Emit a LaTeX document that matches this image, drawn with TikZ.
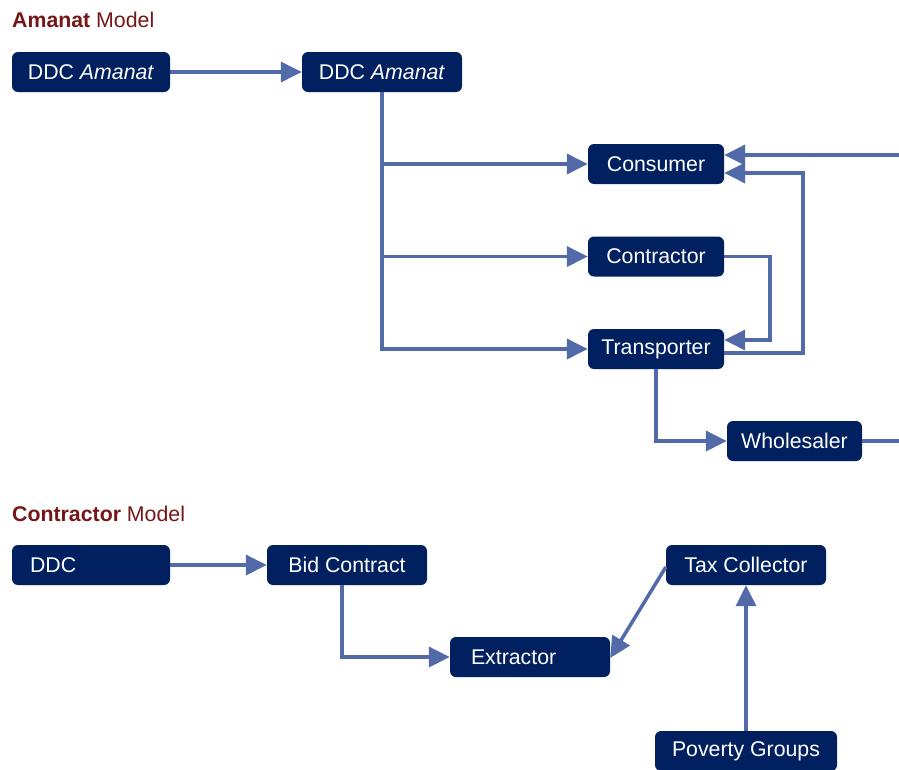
\documentclass[tikz,border=0pt]{standalone}
\usepackage{fontspec}
\setmainfont{Liberation Sans}
\usetikzlibrary{arrows.meta, positioning}
\definecolor{boxblue}{RGB}{0,32,96}
\definecolor{linkblue}{RGB}{82,106,168}
\definecolor{titlered}{RGB}{118,22,22}

\begin{document}
\begin{tikzpicture}[x=1pt, y=1pt, >={Triangle[length=21pt,width=20pt]}, node distance=92.5pt,
    font=\fontsize{21.3}{25}\selectfont,
    box/.style={rectangle, rounded corners=6pt, fill=boxblue, text=white, inner sep=0pt, minimum height=40pt},
    title/.style={anchor=west, inner sep=0pt, text=titlered},
    link/.style={->, draw=linkblue, line width=3.5pt},
    line/.style={draw=linkblue, line width=3.5pt}]
        \useasboundingbox (0,0) rectangle (899,-769);

        % Amanat model
        \node[title] (t1) at (12,-20) {\textbf{Amanat} Model};
        \node[box, minimum width=158pt] (amanat1) at (91,-72) {DDC \textit{Amanat}};
        \node[box, minimum width=160pt] (amanat2) at (382,-72) {DDC \textit{Amanat}};

        \node[box, minimum width=136pt] (consumer) at (656,-164) {Consumer};
        \node[box, minimum width=136pt, below of=consumer] (contractor) {Contractor};
        \node[box, minimum width=136pt, below of=contractor] (transporter) {Transporter};
        \node[box, minimum width=135pt] (wholesaler) at (794.5,-441) {Wholesaler};

        \coordinate (feedin) at (899,-155);
        \coordinate (feedout) at (899,-441);

        % Contractor model
        \node[title] (t2) at (12,-514) {\textbf{Contractor} Model};
        \node[box, minimum width=158pt, text width=122pt, align=left] (ddc) at (91,-565) {DDC};
        \node[box, minimum width=160pt] (bid) at (347,-565) {Bid Contract};
        \node[box, minimum width=160pt, text width=118pt, align=left] (extractor) at (530,-657) {Extractor};
        \node[box, minimum width=160pt] (tax) at (746,-565) {Tax Collector};
        \node[box, minimum width=182pt] (poverty) at (746,-751) {Poverty Groups};

        %Draw Amanat arrows
        \draw[link] (amanat1.east) -- (amanat2.west);
        \draw[link] (amanat2.south) |- (consumer.west);
        \draw[link] (amanat2.south) |- (contractor.west);
        \draw[link] (amanat2.south) |- (transporter.west);

        \draw[link] (contractor.east) -- ++(46,0) |- ([yshift=9pt]transporter.east);
        \draw[link] ([yshift=-4pt]transporter.east) -- ++(79,0) |- ([yshift=-9pt]consumer.east);
        \draw[link] (feedin) -- ([yshift=9pt]consumer.east);

        \draw[link] (transporter.south) |- (wholesaler.west);
        \draw[line] (wholesaler.east) -- (feedout);

        % Draw Contractor arrows
        \draw[link] (ddc.east) -- (bid.west);
        \draw[link] ([xshift=-5pt]bid.south) |- (extractor.west);
        \draw[link] ([yshift=-2pt]tax.west) -- ([yshift=-1pt]extractor.east);
        \draw[link] (poverty.north) -- (tax.south);

    \end{tikzpicture}
\end{document}
